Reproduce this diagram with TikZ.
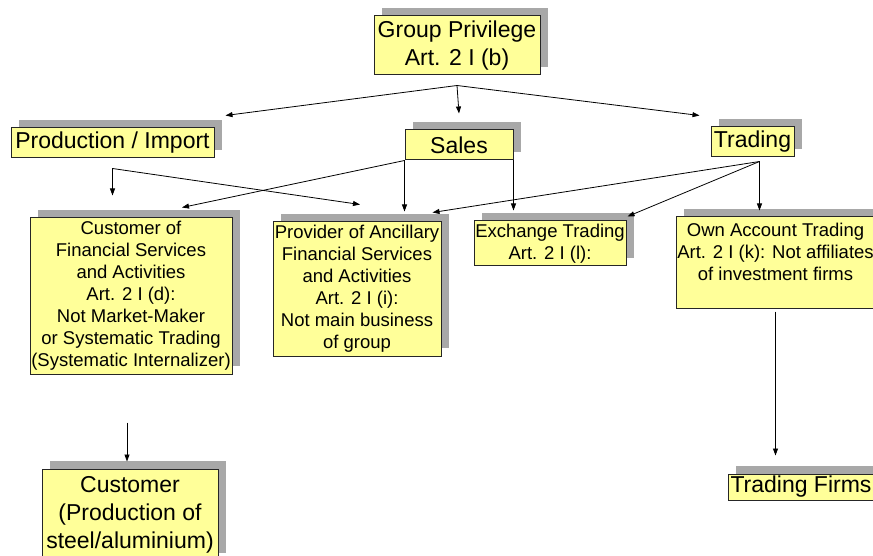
\documentclass[tikz,border=0pt]{standalone}
\usepackage{fontspec}
\setmainfont{Liberation Sans}
\usetikzlibrary{arrows.meta,shadows}
\definecolor{boxyellow}{HTML}{FFFF99}
\definecolor{shadowgray}{HTML}{A8A8A8}
\begin{document}
\begin{tikzpicture}[x=1pt,y=-1pt,
    box/.style={draw=black!85,line width=1pt,fill=boxyellow,inner sep=1pt,align=center,
      general shadow={fill=shadowgray,shadow xshift=8pt,shadow yshift=8pt}},
  big/.style={box,font=\fontsize{23}{28}\selectfont},
  small/.style={box,font=\fontsize{18.5}{22}\selectfont},
  arr/.style={-{Triangle[length=7pt,width=5pt]},line width=.8pt},
  ]
\useasboundingbox (0,0) rectangle (873,556);
\clip (0,0) rectangle (873,556);
% boxes
\node[big,minimum width=166pt,minimum height=59pt] (grp) at (457,45.5) {Group Privilege\\Art. 2 I (b)};
\node[big,minimum width=203pt,minimum height=30pt] (prod) at (112.5,143) {Production / Import};
\node[big,minimum width=108pt,minimum height=30pt] (sales) at (459,145) {Sales};
\node[big,minimum width=83pt,minimum height=30pt] (trade) at (752.5,142) {Trading};
\node[small,minimum width=202pt,minimum height=156pt] (cust) at (131,296)
  {Customer of\\Financial Services\\and Activities\\Art. 2 I (d):\\Not Market-Maker\\or Systematic Trading\\(Systematic Internalizer)};
\node[small,minimum width=168pt,minimum height=134pt] (prov) at (357,289)
  {Provider of Ancillary\\Financial Services\\and Activities\\Art. 2 I (i):\\Not main business\\of group};
\node[small,minimum width=152pt,minimum height=45pt] (exch) at (550,243.5) {Exchange Trading\\Art. 2 I (l):};
\node[small,minimum width=196pt,minimum height=91pt] (own) at (775.5,262.5)
  {Own Account Trading\\Art. 2 I (k): Not affiliates\\of investment firms\\\mbox{}};
\node[big,minimum width=176pt,minimum height=92pt] (steel) at (130,515) {Customer\\(Production of\\steel/aluminium)};
\node[big,minimum width=146pt,minimum height=26pt] (firms) at (801,487) {Trading Firms};
% connectors
\coordinate (gj) at ([yshift=-10pt]grp.south);
\draw[arr] (gj) -- ([xshift=11pt,yshift=12pt]prod.north east);
\draw[arr] (gj) -- ([yshift=16pt]sales.north);
\draw[arr] (gj) -- ([xshift=-11pt,yshift=11pt]trade.north west);
\coordinate (pj) at ([yshift=-10pt]prod.south);
\draw[arr] (pj) -- ++(0,27);
\draw[arr] (pj) -- ([xshift=3pt,yshift=17pt]prov.north);
\draw[arr] (sales.south west) -- ([xshift=51pt,yshift=10pt]cust.north);
\draw[arr] (sales.south west) -- ++(0,51);
\draw[arr] (sales.south east) -- ++(0,50);
\coordinate (tj) at ([xshift=7pt,yshift=-4pt]trade.south);
\draw[arr] (tj) -- ([xshift=-9pt,yshift=9pt]prov.north east);
\draw[arr] (tj) -- ([xshift=1pt,yshift=4pt]exch.north east);
\draw[arr] (tj) -- ++(0,49);
\draw[arr] ([yshift=-3pt]own.south) -- ++(0,144);
\draw[arr] ([xshift=-3pt,yshift=46pt]steel.north) -- ([xshift=-3pt,yshift=7pt]steel.north);
\end{tikzpicture}
\end{document}
